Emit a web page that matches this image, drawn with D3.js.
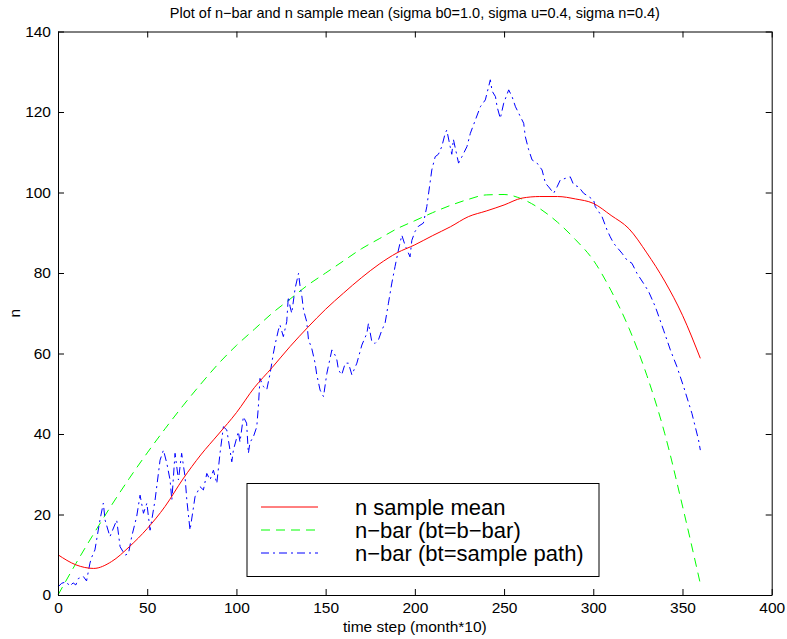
<!DOCTYPE html>
<html>
<head>
<meta charset="utf-8">
<script src="https://cdn.jsdelivr.net/npm/d3@7"></script>
<style>
  body { margin: 0; background: #fff; }
  svg { display: block; font-family: "Liberation Sans", Arial, Helvetica, sans-serif; }
  .axis path, .axis line { stroke: #000; }
  .axis text { font-size: 15.5px; fill: #000; }
</style>
</head>
<body>
<div id="chart"></div>
<script>
// time steps for the two smooth curves
const steps = [0,10,20,30,40,50,60,70,80,90,100,110,120,130,140,150,160,170,180,
  190,200,210,220,230,240,250,260,270,280,290,300,310,320,330,340,350,360];

// n sample mean (red)
const sampleMean = [10,7.5,6.6,8.3,12,16.5,22,28.8,34.8,40,45.3,51.5,56.5,61.7,66.5,71,75,
  78.8,82.2,85,87,89.3,91.5,94,95.4,96.9,98.6,99,99,98.4,97.3,94.3,91,85,78,69.5,58.8];

// n-bar with bt = b-bar (green)
const nBarMean = [0,7.8,15.2,22.3,29,35.3,41.3,47,52.4,57.5,62,66,70,73.5,77,80,83,
  86,88.5,91,93,95,96.8,98.3,99.4,99.5,98.4,96,92.6,88.3,83.2,75.6,66.3,54.6,40.2,22.1,2.8];

// n-bar with bt = sample path (blue), read at irregular steps
const pathT = [0,2,4.7,6.5,8.5,10,11.4,14.2,16,17.9,18.8,20.7,23.5,25.4,26.4,29.1,32.9,34.8,37.6,39.5,
  41.3,44.1,46,47.9,49.8,51.6,54.4,57.2,59.1,61,62.8,63.8,65.6,67.5,69.3,71.2,72.2,74,76.8,79.6,
  81.5,83.4,85.2,87.1,89,90.8,92.7,94.6,96.4,97.4,98.3,101.1,102,103.9,105.7,106.7,107.6,109.5,111.4,112.3,
  113.2,115.1,117,118.9,120.7,121.6,123.5,124.4,126.3,128.2,129.1,130.1,131,132.9,134.8,135.7,136.6,137.6,139.4,140.4,
  142.2,144.1,145,146.9,148.8,150.7,153.5,155.3,156.3,157.2,159,161,162.8,164.7,167.5,170.3,173.1,174,175.9,177.7,
  179.6,181.5,183.3,185.2,187.1,188.9,190.8,192.7,194.5,197.3,198.3,200.1,202,204.8,206.7,209.5,211.4,213.2,215.1,217,
  217.9,219.8,220.7,221.6,224.5,226.4,229.2,231.1,233.9,236.7,239.5,242.3,243.3,245.2,246.1,247.9,249.8,252.6,254.5,256.4,
  258.2,261,261.9,263.8,265.7,268.5,271.3,273.2,275,277.8,279.7,281.5,284.3,287.1,289,291.8,294.6,297.4,300.2,301.1,
  304.9,307.7,309.5,311.4,316.1,318.9,321.7,324.5,328.2,331,334.8,339.4,343.2,346.9,350.6,355.3,359,360];
const pathV = [2,2.9,3.3,2.2,3,2.5,4.1,4.6,3.5,7.9,9.3,11.2,18.6,22.8,18.6,14.5,18.6,12,9.9,10.3,
  14.5,19.5,24.8,20.3,22.8,16.1,23.6,33.5,36,32.7,28.6,23.6,35.2,28.6,35.2,29.4,23.6,16.1,24.4,26.9,
  26.1,30.2,28.6,31,27.7,35.2,41.8,41,36,33.1,36,40.6,38,44.3,42.7,35.2,37.9,39.3,41.8,46.8,
  53.8,51.8,51,55.1,60,62.1,65.8,67.1,64.2,67.9,74.1,71.6,70,76.2,79.9,76.6,74.5,70.8,67.9,63.4,
  61.3,57.6,54.8,50.9,49.3,55.1,60.9,59.6,58.4,55.9,54.7,57.6,57.6,54.7,57.6,62.1,65,67.5,62.9,62.5,
  63.4,65.8,67.5,72.5,77.5,81.6,85.7,89.4,86.9,84,88.1,90.3,91.6,92.4,96.5,105.6,108.9,109.5,111.4,114.7,
  115.5,111.4,109.5,113.2,107.3,108.9,111.4,114.7,118,121.3,123,128,125.2,123.8,121.3,118.4,122.2,125.5,123.8,121.3,
  119.7,117.2,113.9,110.6,108.1,107.3,105.6,102.3,101.4,99.8,101.4,103.1,103.5,103.9,101.9,101.4,99.8,99,98.1,96.5,
  94,90.7,89,87.4,84.9,83.2,82.4,79.9,77.4,75.4,71.6,65.8,60.9,56.7,51.8,45.1,38.5,36];

const xTicks = [0,50,100,150,200,250,300,350,400];
const yTicks = [0,20,40,60,80,100,120,140];
const legendLabels = ["n sample mean", "n\u2212bar (bt=b\u2212bar)", "n\u2212bar (bt=sample path)"];

const W = 787, H = 639;
const margin = { left: 58, right: 771.7, top: 31.5, bottom: 595 };

const svg = d3.select("#chart").append("svg")
  .attr("width", W).attr("height", H);

const x = d3.scaleLinear().domain([0, 400]).range([margin.left, margin.right]);
const y = d3.scaleLinear().domain([0, 140]).range([margin.bottom, margin.top]);

// curves
const smooth = d3.line().x((d, i) => x(steps[i])).y(d => y(d)).curve(d3.curveMonotoneX);
const pathLine = d3.line().x((d, i) => x(pathT[i])).y(d => y(d));

svg.append("path").datum(nBarMean)
  .attr("d", smooth).attr("fill", "none")
  .attr("stroke", "#00ff00").attr("stroke-width", 1)
  .attr("stroke-dasharray", "9,6");

svg.append("path").datum(pathV)
  .attr("d", pathLine).attr("fill", "none")
  .attr("stroke", "#0000ff").attr("stroke-width", 1)
  .attr("stroke-dasharray", "8,4,2,4");

svg.append("path").datum(sampleMean)
  .attr("d", smooth).attr("fill", "none")
  .attr("stroke", "#ff0000").attr("stroke-width", 1);

// axes (ticks inward on all four sides)
svg.append("g").attr("class", "axis")
  .attr("transform", `translate(0,${margin.bottom})`)
  .call(d3.axisBottom(x).tickValues(xTicks).tickSizeInner(-6).tickSizeOuter(0).tickPadding(7));
svg.append("g").attr("class", "axis")
  .attr("transform", `translate(0,${margin.top})`)
  .call(d3.axisTop(x).tickValues(xTicks).tickSizeInner(-6).tickSizeOuter(0).tickFormat(""));
svg.append("g").attr("class", "axis")
  .attr("transform", `translate(${margin.left},0)`)
  .call(d3.axisLeft(y).tickValues(yTicks).tickSizeInner(-6).tickSizeOuter(0).tickPadding(7));
svg.append("g").attr("class", "axis")
  .attr("transform", `translate(${margin.right},0)`)
  .call(d3.axisRight(y).tickValues(yTicks).tickSizeInner(-6).tickSizeOuter(0).tickFormat(""));

// titles
svg.append("text")
  .attr("x", (margin.left + margin.right) / 2).attr("y", 18)
  .attr("text-anchor", "middle").style("font-size", "14.5px")
  .text("Plot of n\u2212bar and n sample mean (sigma b0=1.0, sigma u=0.4, sigma n=0.4)");

svg.append("text")
  .attr("x", (margin.left + margin.right) / 2).attr("y", 632)
  .attr("text-anchor", "middle").style("font-size", "15.5px")
  .text("time step (month*10)");

svg.append("text")
  .attr("transform", `translate(20,${(margin.top + margin.bottom) / 2}) rotate(-90)`)
  .attr("text-anchor", "middle").style("font-size", "15.5px")
  .text("n");

// legend
const legend = svg.append("g");
legend.append("rect")
  .attr("x", 247).attr("y", 483.5).attr("width", 352).attr("height", 93)
  .attr("fill", "#fff").attr("stroke", "#000").attr("stroke-width", 1);

const legStyles = [
  { color: "#ff0000", dash: null },
  { color: "#00ff00", dash: "9,6" },
  { color: "#0000ff", dash: "8,4,2,4" }
];
const rowY = [507, 530, 553];

legendLabels.forEach((lab, i) => {
  legend.append("line")
    .attr("x1", 261).attr("x2", 318)
    .attr("y1", rowY[i]).attr("y2", rowY[i])
    .attr("stroke", legStyles[i].color).attr("stroke-width", 1)
    .attr("stroke-dasharray", legStyles[i].dash);
  legend.append("text")
    .attr("x", 355).attr("y", rowY[i] + 7.5)
    .style("font-size", "22px")
    .text(lab);
});
</script>
</body>
</html>
